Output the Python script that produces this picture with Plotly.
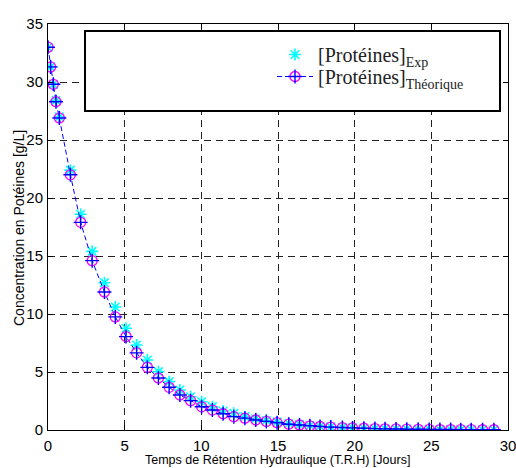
import plotly.graph_objects as go

# Time (days)
t_days = [0, 0.17, 0.35, 0.52, 0.74, 1.46, 2.13, 2.88, 3.68, 4.39, 5.09, 5.78, 6.48, 7.2,
          7.9, 8.6, 9.3, 10.02, 10.72, 11.42, 12.12, 12.84, 13.55, 14.24, 14.94, 15.7, 16.4,
          17.08, 17.74, 18.44, 19.2, 19.86, 20.6, 21.32, 21.98, 22.7, 23.4, 24.14, 24.86,
          25.56, 26.26, 26.92, 27.6, 28.34, 29.08]

# Theoretical protein concentration (g/L)
prot_theo = [33.0, 31.3, 29.8, 28.3, 26.9, 22.0, 17.9, 14.6, 11.9, 9.75, 8.05, 6.65, 5.4,
             4.48, 3.68, 3.02, 2.53, 2.0, 1.72, 1.4, 1.15, 1.02, 0.86, 0.74, 0.63, 0.5, 0.43,
             0.36, 0.3, 0.25, 0.21, 0.18, 0.15, 0.12, 0.1, 0.09, 0.07, 0.06, 0.05, 0.04, 0.04,
             0.03, 0.03, 0.02, 0.02]

# Experimental protein concentration (g/L)
prot_exp = [33.0, 31.3, 29.8, 28.4, 27.0, 22.4, 18.6, 15.4, 12.7, 10.6, 8.77, 7.33, 6.03,
            5.03, 4.17, 3.45, 2.87, 2.44, 2.01, 1.64, 1.44, 1.15, 0.97, 0.82, 0.7, 0.56, 0.47,
            0.39, 0.32, 0.27, 0.22, 0.19, 0.15, 0.12, 0.1, 0.09, 0.07, 0.06, 0.05, 0.04, 0.04,
            0.03, 0.03, 0.02, 0.02]

x_ticks = [0, 5, 10, 15, 20, 25, 30]
y_ticks = [0, 5, 10, 15, 20, 25, 30, 35]

name_exp = "[Protéines]<sub>Exp</sub>"
name_theo = "[Protéines]<sub>Théorique</sub>"
x_title = "Temps de Rétention Hydraulique (T.R.H) [Jours]"
y_title = "Concentration en Potéines [g/L]"

# plot area in window pixels: x 48..508, y 24..430
PW, PH = 460, 406
def px(x):
    return (x - 48) / PW
def py(y):
    return (430 - y) / PH

fig = go.Figure()

fig.add_trace(go.Scatter(
    x=t_days, y=prot_exp, mode="markers", name=name_exp, legend="legend",
    marker=dict(symbol="asterisk-open", size=10, color="#00FFFF",
                line=dict(color="#00FFFF", width=1.6)),
))
fig.add_trace(go.Scatter(
    x=t_days, y=prot_theo, mode="lines+markers", name=name_theo, legend="legend2",
    line=dict(color="#0000FF", width=1, dash="5px,3px"),
    marker=dict(symbol="circle-open", size=10, color="#FF00FF",
                line=dict(color="#FF00FF", width=1.3)),
))
fig.add_trace(go.Scatter(
    x=t_days, y=prot_theo, mode="markers", name=name_theo, legend="legend3",
    hoverinfo="skip",
    marker=dict(symbol="cross-thin-open", size=10, color="#0000FF",
                line=dict(color="#0000FF", width=1.4)),
))

# legend frame (large box as in reference)
fig.add_shape(type="rect", xref="paper", yref="paper",
              x0=px(85), x1=px(500), y0=py(111), y1=py(31),
              line=dict(color="black", width=2), fillcolor="white", layer="above")

axis_common = dict(
    showline=True, linecolor="black", linewidth=1, mirror="ticks",
    ticks="inside", ticklen=5, tickcolor="black",
    showgrid=True, gridcolor="#222222", gridwidth=1, griddash="7px,5px",
    zeroline=False, automargin=False, ticklabeloverflow="allow",
    tickfont=dict(family="Liberation Sans, Arial", size=15, color="black"),
)

leg_font = dict(family="Liberation Serif, Times New Roman", size=20, color="#222")
leg_common = dict(xanchor="left", yanchor="top", bgcolor="rgba(0,0,0,0)",
                  borderwidth=0, itemwidth=36)

fig.update_layout(
    width=516, height=468,
    margin=dict(l=48, r=8, t=24, b=38),
    paper_bgcolor="white", plot_bgcolor="white",
    xaxis=dict(range=[0, 30], tickvals=x_ticks, ticklabelstandoff=2, **axis_common),
    yaxis=dict(range=[0, 35], tickvals=y_ticks, ticklabelstandoff=1, **axis_common),
    legend=dict(x=px(272), y=py(35), font=leg_font, **leg_common),
    legend2=dict(x=px(272), y=py(57), font=leg_font, **leg_common),
    legend3=dict(x=px(272), y=py(57),
                 font=dict(family="Liberation Serif, Times New Roman", size=20,
                           color="rgba(0,0,0,0)"), **leg_common),
    showlegend=True,
    annotations=[
        dict(text=x_title, xref="paper", yref="paper", x=px(277), y=py(460),
             xanchor="center", yanchor="middle", showarrow=False,
             font=dict(family="Liberation Sans, Arial", size=12.5, color="black")),
        dict(text=y_title, xref="paper", yref="paper", x=px(19), y=py(228),
             xanchor="center", yanchor="middle", showarrow=False, textangle=-90,
             font=dict(family="Liberation Sans, Arial", size=14, color="black")),
    ],
)

fig.write_html(
    "out.html",
    config={"displayModeBar": False},
    post_script="document.body.style.margin='0';document.body.style.overflow='hidden';",
)
